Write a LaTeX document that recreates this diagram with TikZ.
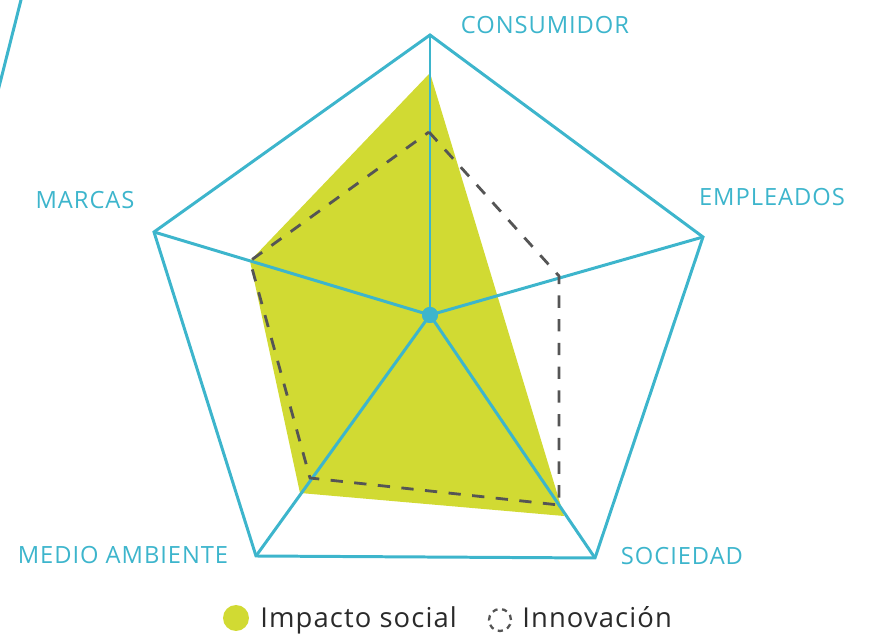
\documentclass[tikz,border=0pt]{standalone}
\usepackage{fontspec}
\setmainfont{Open Sans}
\usepackage{xcolor}
\usepackage{tikz}
\usetikzlibrary{positioning}

\definecolor{radarblue}{HTML}{3DB5CC}
\definecolor{radargreen}{HTML}{D1DA33}
\definecolor{radargray}{HTML}{555555}
\definecolor{legendink}{HTML}{2A2A2A}

\tikzset{
	axis/.style={draw=radarblue, line width=1.7pt, line join=miter},
	axislabel/.style={text=radarblue, inner sep=0pt, font=\fontsize{13.5}{15}\selectfont\addfontfeatures{LetterSpace=4}},
	dashline/.style={draw=radargray, line width=1.6pt, dash pattern=on 7pt off 6.5pt},
	legendtext/.style={text=legendink, inner sep=0pt, anchor=base west, font=\fontsize{15.6}{17}\selectfont\addfontfeatures{LetterSpace=4}}
}

\begin{document}
\begin{tikzpicture}[x=0.02cm, y=-0.02cm]

	\useasboundingbox (0,0) rectangle (870,634);

	% corners of the pentagon
	\coordinate (con) at (430,35);
	\coordinate (emp) at (703,237);
	\coordinate (soc) at (595,558);
	\coordinate (med) at (256,556);
	\coordinate (mar) at (154,232);

	% edge of the next chart
	\draw [axis] (23,-8) -- (-2,91);

	% impacto social
	\fill [radargreen] (430,73) -- (564,516) -- (300,493) -- (250,261) -- cycle;

	\draw [axis] (con) -- (emp) -- (soc) -- (med) -- (mar) -- cycle;

	\node [circle, fill=radarblue, minimum size=0.32cm, inner sep=0pt] (hub) at (430,315) {};

	\foreach \v in {con,emp,soc,med,mar}
		\draw [axis] (hub.center) -- (\v);

	% innovacion
	\draw [dashline] (429,132) -- (559,276) -- (559,505) -- (310,478) -- (250,261) -- cycle;

	\node [circle, fill=radarblue, minimum size=0.32cm, inner sep=0pt] at (hub) {};

	\node [axislabel] (lcon) at (545,25) {CONSUMIDOR};
	\node [axislabel] (lemp) at (772,197) {EMPLEADOS};
	\node [axislabel] (lmar) at (85,200) {MARCAS};
	\node [axislabel] (lmed) at (123,555) {MEDIO AMBIENTE};
	\node [axislabel] (lsoc) at (682,556) {SOCIEDAD};

	% legend
	\node [circle, fill=radargreen, minimum size=0.52cm, inner sep=0pt] (kimp) at (236,618) {};
	\node [legendtext] (timp) at (260,628) {Impacto social};

	\node [circle, draw=radargray, line width=1.3pt, dash pattern=on 3pt off 2.6pt, minimum size=0.44cm, inner sep=0pt] (kinn) at (500,620) {};
	\node [legendtext] (tinn) at (522,628) {Innovación};

\end{tikzpicture}
\end{document}
